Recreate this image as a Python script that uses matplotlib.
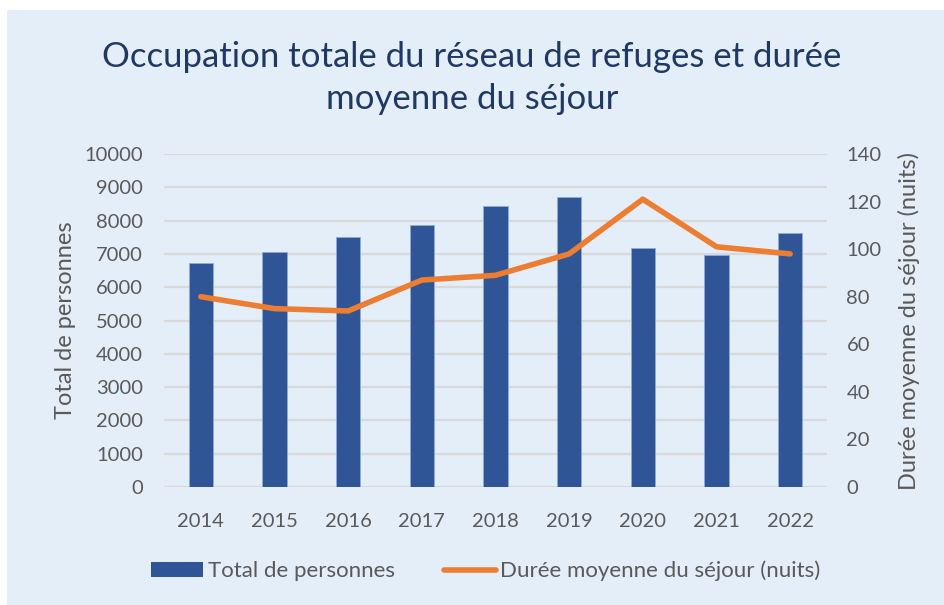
import numpy as np
import matplotlib.pyplot as plt
from matplotlib.patches import Rectangle
from matplotlib.lines import Line2D

years = ['2014', '2015', '2016', '2017', '2018', '2019', '2020', '2021', '2022']
total_personnes = [6740, 7050, 7500, 7880, 8430, 8700, 7170, 6960, 7620]
duree_moyenne = [80, 75, 74, 87, 89, 98, 121, 101, 98]

BG = '#E4EEF8'
BLUE = '#2F5597'
ORANGE = '#ED7D31'
GREY = '#595959'
GRID = '#D9D9D9'

plt.rcParams['font.family'] = ['Lato', 'DejaVu Sans']

fig = plt.figure(figsize=(9.44, 6.05), dpi=100)
fig.patch.set_facecolor('white')
# light blue panel behind the chart (small white margin top/left)
fig.patches.append(Rectangle((7 / 944, 0), 1, 1 - 10 / 605, transform=fig.transFigure,
                             facecolor=BG, edgecolor='none', zorder=-10))

ax = fig.add_axes([164 / 944, (605 - 487) / 605, (827 - 164) / 944, (487 - 154) / 605])
ax.set_facecolor('none')
x = np.arange(len(years))
ax.bar(x, total_personnes, width=0.33, color=BLUE, edgecolor='#8FAADC', linewidth=0.6, zorder=3)
ax.set_xlim(-0.5, len(years) - 0.5)
ax.set_ylim(0, 10000)
ax.set_yticks(np.arange(0, 10001, 1000))
ax.set_xticks(x)
ax.set_xticklabels(years)
ax.yaxis.grid(True, color=GRID, linewidth=1.6, zorder=0)
ax.set_axisbelow(True)
ax.tick_params(length=0, labelsize=14.5, colors=GREY)
ax.tick_params(axis='x', pad=19)
ax.tick_params(axis='y', pad=15)
for s in ax.spines.values():
    s.set_visible(False)
ax.set_ylabel('Total de personnes', fontsize=17, color=GREY, labelpad=6)

ax2 = ax.twinx()
ax2.plot(x, duree_moyenne, color=ORANGE, linewidth=4, solid_capstyle='round', zorder=4)
ax2.set_ylim(0, 140)
ax2.set_yticks(np.arange(0, 141, 20))
ax2.tick_params(length=0, labelsize=14.5, colors=GREY, pad=14)
for s in ax2.spines.values():
    s.set_visible(False)
ax2.set_ylabel('Durée moyenne du séjour (nuits)', fontsize=17, color=GREY, labelpad=12)

fig.text(0.5, 1 - 78 / 605, 'Occupation totale du réseau de refuges et durée\nmoyenne du séjour',
         ha='center', va='center', fontsize=25, color='#1F3864', linespacing=1.4)

handles = [Rectangle((0, 0), 1, 1, facecolor=BLUE),
           Line2D([0], [0], color=ORANGE, linewidth=4, solid_capstyle='round')]
fig.legend(handles, ['Total de personnes', 'Durée moyenne du séjour (nuits)'],
           loc='center', bbox_to_anchor=(486 / 944, 1 - 571 / 605), ncol=2, frameon=False,
           fontsize=16, labelcolor=GREY, handlelength=2.35, handletextpad=0.2, columnspacing=2.2)

fig.savefig('out.png', dpi=100, facecolor=fig.get_facecolor())
